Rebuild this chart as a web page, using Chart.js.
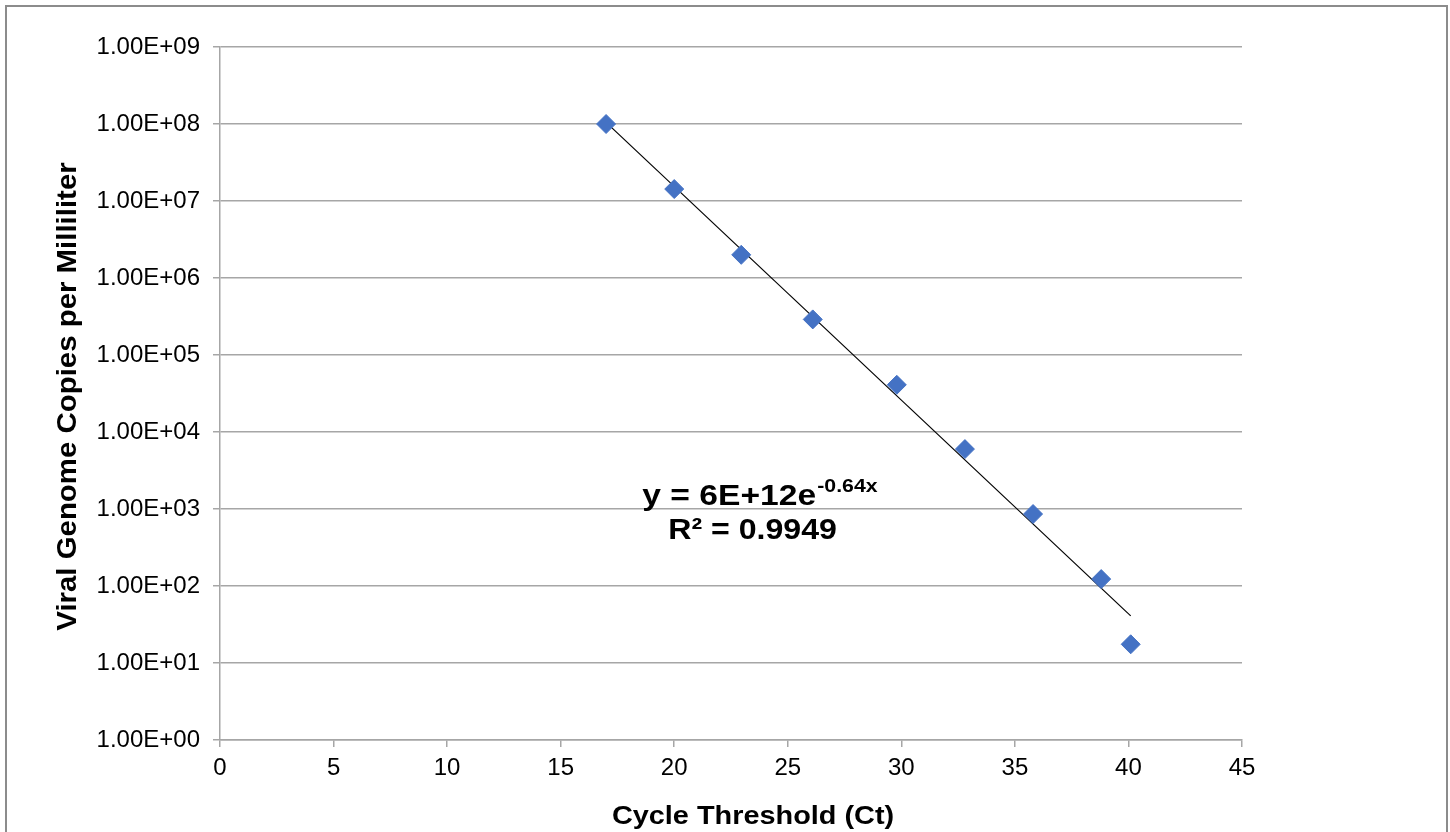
<!DOCTYPE html>
<html>
<head>
<meta charset="utf-8">
<script src="https://cdn.jsdelivr.net/npm/chart.js@4/dist/chart.umd.min.js"></script>
<style>
  html, body { margin: 0; padding: 0; background: #fff; overflow: hidden; }
  #frame { position: absolute; left: 5px; top: 5px; width: 1439px; height: 900px; border: 2px solid #8c8c8c; }
  #wrap { position: absolute; left: 0; top: 0; width: 1450px; height: 832px; }
</style>
</head>
<body>
<div id="frame"></div>
<div id="wrap"><canvas id="chart"></canvas></div>
<script>
// Data
const ctValues = [17.0, 20.0, 22.95, 26.1, 29.8, 32.8, 35.8, 38.8, 40.1];
const copies = [1.0e8, 1.43e7, 2.0e6, 2.9e5, 4.1e4, 6.0e3, 8.6e2, 1.23e2, 1.75e1];

// trend line endpoints (as drawn)
const trendX = [17.0, 40.1];
const trendY = [1.05e8, 41];

const yTicks = [1, 10, 100, 1e3, 1e4, 1e5, 1e6, 1e7, 1e8, 1e9];
const yTickLabels = ["1.00E+00", "1.00E+01", "1.00E+02", "1.00E+03", "1.00E+04",
  "1.00E+05", "1.00E+06", "1.00E+07", "1.00E+08", "1.00E+09"];

const xTitle = "Cycle Threshold (Ct)";
const yTitle = "Viral Genome Copies per Milliliter";
const eqText = ["y = 6E+12e", "-0.64x"];
const r2Text = "R² = 0.9949";

const gridGray = "#a6a6a6";
const fontFam = "'Liberation Sans', Arial, sans-serif";

// the bold texts in the original are drawn a bit wide, so stretch them
function stretchedText(c, text, x, y, size, sx, rot) {
  c.save();
  c.translate(x, y);
  if (rot) c.rotate(rot);
  c.scale(sx, 1);
  c.font = "bold " + size + "px " + fontFam;
  c.textAlign = "center";
  c.textBaseline = "middle";
  c.fillText(text, 0, 0);
  c.restore();
}

const textPlugin = {
  id: "texts",
  afterDatasetsDraw(chart) {
    const c = chart.ctx;
    const xs = chart.scales.x, ys = chart.scales.y;
    const area = chart.chartArea;
    c.save();
    c.fillStyle = "#000";

    // axis titles
    stretchedText(c, xTitle, (area.left + area.right) / 2 + 22, chart.height - 15, 26, 1.11, 0);
    stretchedText(c, yTitle, 68, (area.top + area.bottom) / 2 + 3, 28, 1.05, -Math.PI / 2);

    // trend line equation
    const cx = xs.getPixelForValue(23.75);
    const y1 = ys.getPixelForValue(1450);
    const y2 = ys.getPixelForValue(520);
    const sx = 1.12;
    c.font = "bold 30px " + fontFam;
    const w1 = c.measureText(eqText[0]).width;
    c.font = "bold 19px " + fontFam;
    const w2 = c.measureText(eqText[1]).width;
    c.translate(cx, 0);
    c.scale(sx, 1);
    const x0 = -(w1 + w2) / 2;
    c.textBaseline = "middle";
    c.textAlign = "left";
    c.font = "bold 30px " + fontFam;
    c.fillText(eqText[0], x0, y1);
    c.font = "bold 19px " + fontFam;
    c.fillText(eqText[1], x0 + w1 + 1, y1 - 10);
    c.restore();

    stretchedText(c, r2Text, xs.getPixelForValue(23.45), y2, 30, 1.07, 0);
  }
};

new Chart(document.getElementById("chart"), {
  type: "scatter",
  data: {
    datasets: [
      {
        label: "trend",
        type: "line",
        data: trendX.map((x, i) => ({ x: x, y: trendY[i] })),
        borderColor: "#000",
        borderWidth: 1.2,
        pointRadius: 0,
        fill: false,
        order: 2
      },
      {
        label: "Ct",
        data: ctValues.map((x, i) => ({ x: x, y: copies[i] })),
        pointStyle: "rectRot",
        pointRadius: 9.5,
        backgroundColor: "#4472c4",
        borderColor: "#4472c4",
        borderWidth: 1,
        order: 1
      }
    ]
  },
  options: {
    responsive: true,
    maintainAspectRatio: false,
    animation: false,
    layout: { padding: { left: 0, right: 208, top: 47, bottom: 0 } },
    plugins: { legend: { display: false }, tooltip: { enabled: false } },
    scales: {
      x: {
        type: "linear",
        min: 0, max: 45,
        ticks: { stepSize: 5, color: "#000", font: { size: 24, family: fontFam }, padding: 7 },
        grid: { drawOnChartArea: false, drawTicks: true, tickLength: 7, color: gridGray, lineWidth: 1.5 },
        border: { display: true, color: gridGray, width: 1.5 },
        afterFit(s) { s.height = 92; }
      },
      y: {
        type: "logarithmic",
        min: 1, max: 1e9,
        afterBuildTicks(s) { s.ticks = yTicks.map(v => ({ value: v })); },
        ticks: {
          color: "#000",
          font: { size: 24, family: fontFam },
          padding: 13,
          autoSkip: false,
          callback: (v) => yTickLabels[yTicks.indexOf(v)]
        },
        grid: { color: gridGray, lineWidth: 1.5, tickLength: 7 },
        border: { display: true, color: gridGray, width: 1.5 },
        afterFit(s) { s.width = 220; }
      }
    }
  },
  plugins: [textPlugin]
});
</script>
</body>
</html>
